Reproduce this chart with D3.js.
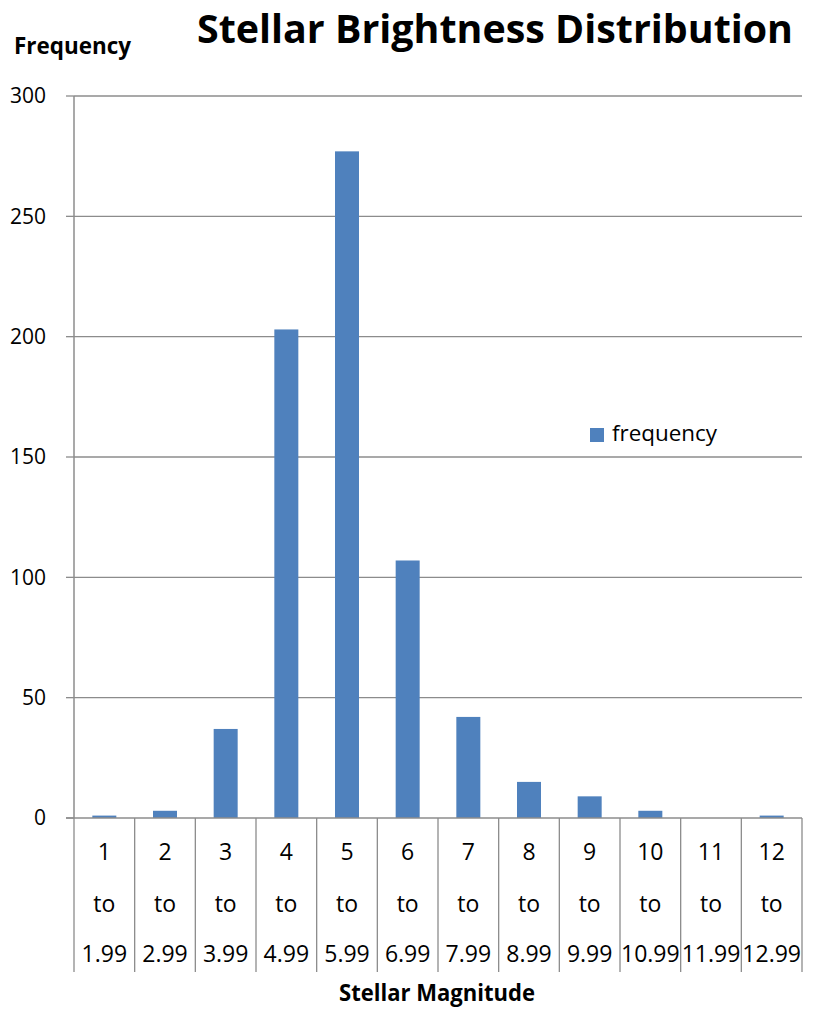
<!DOCTYPE html>
<html>
<head>
<meta charset="utf-8">
<script src="https://cdn.jsdelivr.net/npm/d3@7"></script>
<style>
  html, body { margin: 0; padding: 0; background: #fff; }
  svg { display: block; }
</style>
</head>
<body>
<svg id="chart" width="816" height="1010"></svg>
<script>
const categoriesFrom = ["1","2","3","4","5","6","7","8","9","10","11","12"];
const categoriesTo = ["1.99","2.99","3.99","4.99","5.99","6.99","7.99","8.99","9.99","10.99","11.99","12.99"];
const frequency = [1, 3, 37, 203, 277, 107, 42, 15, 9, 3, 0, 1];
const yTicks = [0, 50, 100, 150, 200, 250, 300];
const seriesName = "frequency";

(function () {
const svg = d3.select("#chart");
const font = "'Open Sans', 'Noto Sans', sans-serif";
const barColor = "#4F81BD";
const gridColor = "#8c8c8c";

const plotLeft = 74, plotRight = 802, plotTop = 96, plotBottom = 818;

const x = d3.scaleBand().domain(d3.range(frequency.length)).range([plotLeft, plotRight]).paddingInner(0).paddingOuter(0);
const y = d3.scaleLinear().domain([0, 300]).range([plotBottom, plotTop]);

// squeeze text horizontally to a target width, keeping its height
function squeeze(sel, width) {
  const w = sel.node().getComputedTextLength();
  if (w > width) sel.attr("textLength", width).attr("lengthAdjust", "spacingAndGlyphs");
}
// fit text exactly to a target width
function fitWidth(sel, width) {
  sel.attr("textLength", width).attr("lengthAdjust", "spacingAndGlyphs");
}

// gridlines
svg.append("g").selectAll("line").data(yTicks.filter(d => d > 0)).join("line")
  .attr("x1", plotLeft).attr("x2", plotRight)
  .attr("y1", d => y(d)).attr("y2", d => y(d))
  .attr("stroke", gridColor).attr("stroke-width", 1.3);

// y tick marks
svg.append("g").selectAll("line").data(yTicks).join("line")
  .attr("x1", plotLeft - 8).attr("x2", plotLeft)
  .attr("y1", d => y(d)).attr("y2", d => y(d))
  .attr("stroke", gridColor).attr("stroke-width", 1.3);

// y labels
svg.append("g").selectAll("text").data(yTicks).join("text")
  .attr("x", 46).attr("y", d => y(d)).attr("dy", "0.35em")
  .attr("text-anchor", "end")
  .attr("font-family", font).attr("font-size", 21).attr("fill", "#000")
  .text(d => d);

// bars
const bw = 24;
svg.append("g").selectAll("rect").data(frequency).join("rect")
  .attr("x", (d, i) => x(i) + x.bandwidth() / 2 - bw / 2)
  .attr("width", bw)
  .attr("y", d => y(d))
  .attr("height", d => y(0) - y(d))
  .attr("fill", barColor);

// y axis line
svg.append("line").attr("x1", plotLeft).attr("x2", plotLeft).attr("y1", plotTop).attr("y2", plotBottom)
  .attr("stroke", gridColor).attr("stroke-width", 1.5);

// x baseline
svg.append("line").attr("x1", plotLeft - 8).attr("x2", plotRight).attr("y1", plotBottom).attr("y2", plotBottom)
  .attr("stroke", gridColor).attr("stroke-width", 1.5);

// category separators
const seps = d3.range(frequency.length + 1).map(i => i < frequency.length ? x(i) : plotRight);
svg.append("g").selectAll("line").data(seps).join("line")
  .attr("x1", d => d).attr("x2", d => d)
  .attr("y1", plotBottom).attr("y2", 972)
  .attr("stroke", gridColor).attr("stroke-width", 1.3);

// category labels
const cx = i => x(i) + x.bandwidth() / 2;
const catG = svg.append("g").attr("font-family", font).attr("font-size", 23).attr("fill", "#000").attr("text-anchor", "middle");
catG.selectAll("text.a").data(categoriesFrom).join("text").attr("class", "a")
  .attr("x", (d, i) => cx(i)).attr("y", 852).attr("dy", "0.35em").text(d => d);
catG.selectAll("text.b").data(categoriesFrom).join("text").attr("class", "b")
  .attr("x", (d, i) => cx(i)).attr("y", 904).attr("dy", "0.35em").text("to");
catG.selectAll("text.c").data(categoriesTo).join("text").attr("class", "c")
  .attr("x", (d, i) => cx(i)).attr("y", 954).attr("dy", "0.35em").text(d => d)
  .each(function () { squeeze(d3.select(this), 59); });

// title
const title = svg.append("text").attr("x", 197).attr("y", 43)
  .attr("font-family", font).attr("font-weight", "bold").attr("font-size", 40)
  .attr("fill", "#000").text("Stellar Brightness Distribution");
fitWidth(title, 596);

// y axis title
const yt = svg.append("text").attr("x", 14).attr("y", 54)
  .attr("font-family", font).attr("font-weight", "bold").attr("font-size", 22.5)
  .attr("fill", "#000").text("Frequency");
fitWidth(yt, 117);

// x axis title
const xt = svg.append("text").attr("x", 339).attr("y", 1001)
  .attr("font-family", font).attr("font-weight", "bold").attr("font-size", 22.5)
  .attr("fill", "#000").text("Stellar Magnitude");
fitWidth(xt, 196);

// legend
svg.append("rect").attr("x", 590).attr("y", 428).attr("width", 14).attr("height", 14).attr("fill", barColor);
const lt = svg.append("text").attr("x", 612).attr("y", 441)
  .attr("font-family", font).attr("font-size", 22).attr("fill", "#000").text(seriesName);
fitWidth(lt, 105);
})();
</script>
</body>
</html>
